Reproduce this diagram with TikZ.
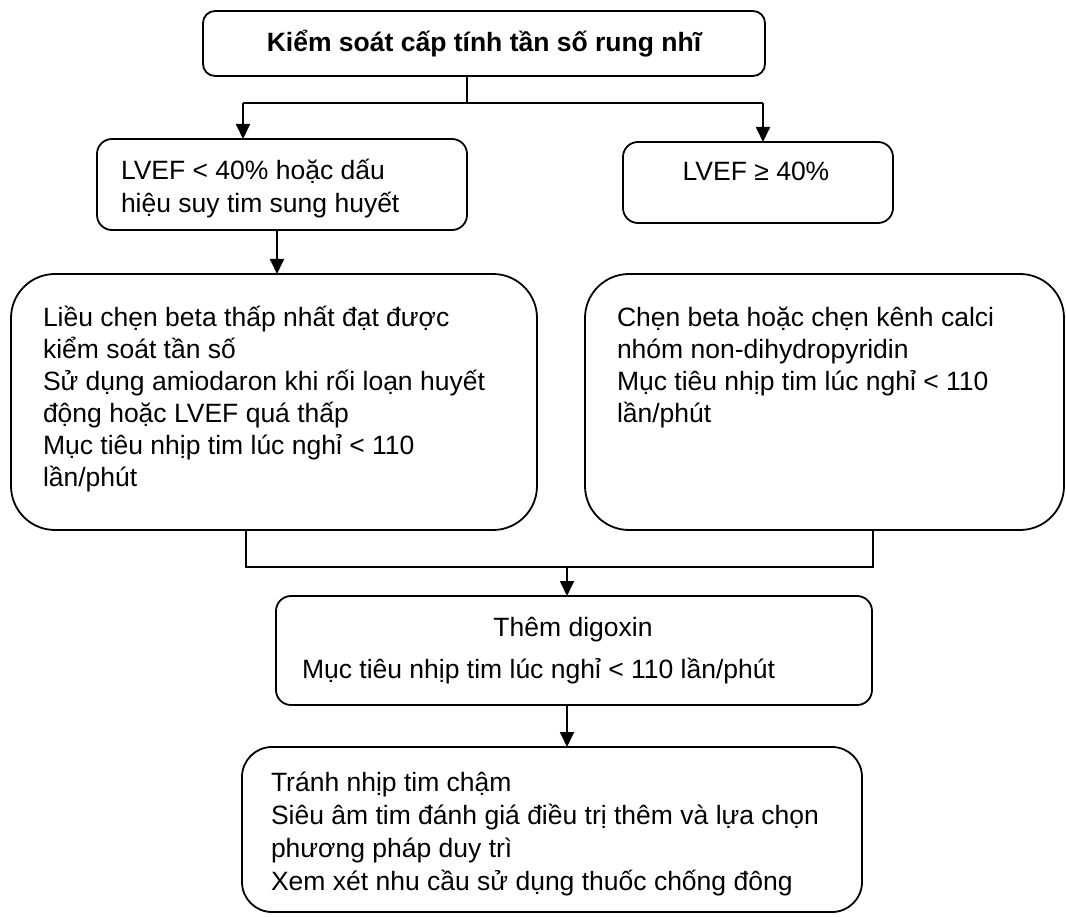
\documentclass[tikz,border=0pt]{standalone}
\usepackage{fontspec}
\setmainfont{Liberation Sans}
\usetikzlibrary{arrows.meta}
\begin{document}
\begin{tikzpicture}[x=1pt,y=-1pt,
  box/.style={draw, line width=1.8pt, inner sep=0pt, outer sep=0pt},
  txt/.style={inner sep=0pt, outer sep=0pt, align=left, font=\fontsize{26.5}{32}\selectfont},
  conn/.style={line width=1.8pt},
  arr/.style={conn, -{Triangle[length=15pt,width=14pt]}}]
\useasboundingbox (0,0) rectangle (1066,917);
% boxes
\node[box, rounded corners=12pt, minimum width=562pt, minimum height=65pt] (top) at (484,43.5) {};
\node[box, rounded corners=15pt, minimum width=370pt, minimum height=91pt] (lv1) at (282,184.5) {};
\node[box, rounded corners=15pt, minimum width=270pt, minimum height=81pt] (lv2) at (758,182.5) {};
\node[box, rounded corners=44pt, minimum width=526pt, minimum height=256pt] (big1) at (274,402) {};
\node[box, rounded corners=44pt, minimum width=479pt, minimum height=256pt] (big2) at (824.5,402) {};
\node[box, rounded corners=15pt, minimum width=596pt, minimum height=109pt] (dig) at (574,650.5) {};
\node[box, rounded corners=30pt, minimum width=620pt, minimum height=165pt] (bot) at (552,829.5) {};
% texts (multi-line nodes: base = last line's baseline)
\node[txt, anchor=base, font=\fontsize{26.5}{32}\selectfont\bfseries] (topt) at (484,52) {Kiểm soát cấp tính tần số rung nhĩ};
\node[txt, anchor=base west, font=\fontsize{26.5}{33}\selectfont] (lv1t) at (121,213) {LVEF < 40\% hoặc dấu\\hiệu suy tim sung huyết};
\node[txt, anchor=base] (lv2t) at (756,181) {LVEF ≥ 40\%};
\node[txt, anchor=base west] (big1t) at (43,486) {Liều chẹn beta thấp nhất đạt được\\kiểm soát tần số\\Sử dụng amiodaron khi rối loạn huyết\\động hoặc LVEF quá thấp\\Mục tiêu nhịp tim lúc nghỉ < 110\\lần/phút};
\node[txt, anchor=base west] (big2t) at (617,422) {Chẹn beta hoặc chẹn kênh calci\\nhóm non-dihydropyridin\\Mục tiêu nhịp tim lúc nghỉ < 110\\lần/phút};
\node[txt, anchor=base] (digt1) at (573,636) {Thêm digoxin};
\node[txt, anchor=base west] (digt2) at (302,678) {Mục tiêu nhịp tim lúc nghỉ < 110 lần/phút};
\node[txt, anchor=base west, font=\fontsize{26.5}{33}\selectfont] (bott) at (271,890) {Tránh nhịp tim chậm\\Siêu âm tim đánh giá điều trị thêm và lựa chọn\\phương pháp duy trì\\Xem xét nhu cầu sử dụng thuốc chống đông};
% junction coordinates
\coordinate (j1) at (467,103);
\coordinate (bl) at (243,103);
\coordinate (br) at (763,103);
\coordinate (a1) at (277,250);
\coordinate (m1) at (246,567);
\coordinate (m2) at (873,567);
\coordinate (mj) at (567,567);
% connectors
\draw[conn] (top.south -| j1) -- (j1);
\draw[conn] (bl) -- (br);
\draw[arr] (bl) -- (bl |- lv1.north);
\draw[arr] (br) -- (br |- lv2.north);
\draw[arr] (lv1.south -| a1) -- (big1.north -| a1);
\draw[conn] (big1.south -| m1) -- (m1) -- (m2) -- (big2.south -| m2);
\draw[arr] (mj) -- (dig.north -| mj);
\draw[arr] (dig.south -| mj) -- (bot.north -| mj);
\end{tikzpicture}
\end{document}
